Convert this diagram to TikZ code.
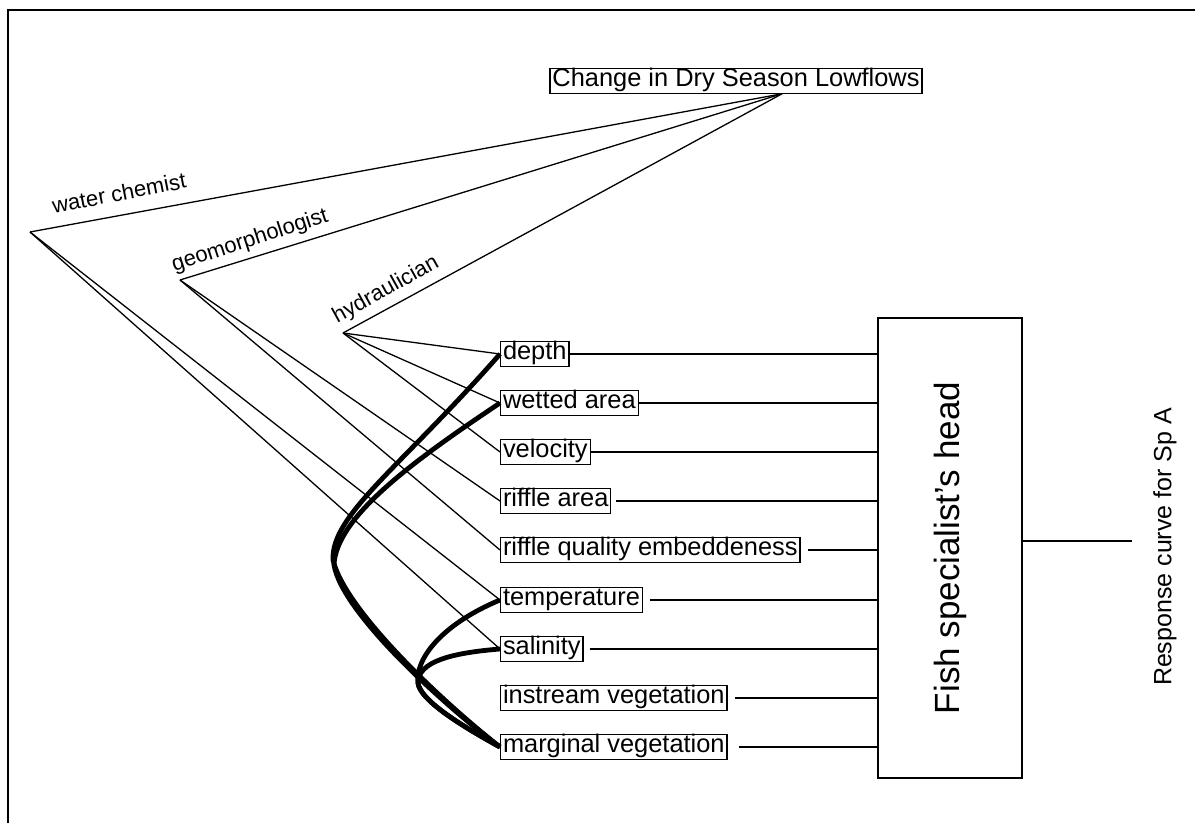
\documentclass[tikz,border=0pt]{standalone}
\usepackage{fontspec}
\setmainfont{Liberation Sans}
\begin{document}
\begin{tikzpicture}[x=0.5pt, y=-0.5pt,
    factor/.style={draw, anchor=west, line width=0.6pt, inner xsep=1.2pt, inner ysep=1.3pt,
      text height=0.74em, text depth=0.22em, font=\fontsize{12.7}{15}\selectfont},
    expert/.style={font=\fontsize{11}{13}\selectfont},
    wire/.style={line width=0.65pt},
    link/.style={line width=2.4pt, line join=round}]
    \useasboundingbox (0,0) rectangle (1195,823);
    \draw[line width=0.75pt] (8,823) -- (8,10) -- (1195,10);

    % Driver and experts
    \node[factor, anchor=center] (chg) at (736,81) {Change in Dry Season Lowflows};
    \coordinate (flow) at ([xshift=23pt]chg.south);
    \coordinate (wc) at (30,232);
    \coordinate (geo) at (180,280);
    \coordinate (hyd) at (343,333);
    \node[expert, rotate=11] (wclab) at (119,193) {water chemist};
    \node[expert, rotate=18] (geolab) at (250,241) {geomorphologist};
    \node[expert, rotate=29] (hydlab) at (386,290) {hydraulician};
    \draw[wire] (wc) -- (flow);
    \draw[wire] (geo) -- (flow);
    \draw[wire] (hyd) -- (flow);

    % Factors
    \node[factor] (dep) at (500,354) {depth};
    \node[factor] (wet) at (500,403) {wetted area};
    \node[factor] (vel) at (500,452) {velocity};
    \node[factor] (rar) at (500,501) {riffle area};
    \node[factor] (rqe) at (500,550) {riffle quality embeddeness};
    \node[factor] (tem) at (500,600) {temperature};
    \node[factor] (sal) at (500,649) {salinity};
    \node[factor] (ins) at (500,698) {instream vegetation};
    \node[factor] (mar) at (500,747) {marginal vegetation};

    \draw[wire] (hyd) -- (dep.west);
    \draw[wire] (hyd) -- (wet.west);
    \draw[wire] (hyd) -- (vel.west);
    \draw[wire] (geo) -- (rar.west);
    \draw[wire] (geo) -- (rqe.west);
    \draw[wire] (wc) -- (tem.west);
    \draw[wire] (wc) -- (sal.west);

    % Fish specialist
    \node[draw, line width=0.6pt, minimum width=72pt, minimum height=230pt, inner sep=0pt] (head) at (950,548)
      {\rotatebox{90}{\fontsize{17.5}{20}\selectfont Fish specialist's head}};
    \foreach \f/\g in {dep/0, wet/0, vel/0, rar/2.5, rqe/3.5, tem/3.5, sal/3, ins/3.5, mar/5.5}
      \draw[wire, shorten <=\g pt] (\f.east) -- (head.west |- \f.east);
    \coordinate (resp) at (1132,541);
    \draw[wire] (head.east |- resp) -- (resp);
    \node[rotate=90, font=\fontsize{12.5}{14}\selectfont] (resplab) at (1165,547) {Response curve for Sp A};

    % Links between factors
    \draw[link] (dep.west) .. controls (400,468) and (331,515) .. (333,560)
      .. controls (345,610) and (440,700) .. (mar.west);
    \draw[link] (wet.west) .. controls (410,463) and (336,518) .. (334,565)
      .. controls (342,612) and (440,702) .. (mar.west);
    \draw[link] (tem.west) .. controls (440,625) and (415,660) .. (418,683)
      .. controls (420,700) and (460,725) .. (mar.west);
    \draw[link] (sal.west) .. controls (450,653) and (418,662) .. (418,683)
      .. controls (420,700) and (460,725) .. (mar.west);
\end{tikzpicture}
\end{document}
